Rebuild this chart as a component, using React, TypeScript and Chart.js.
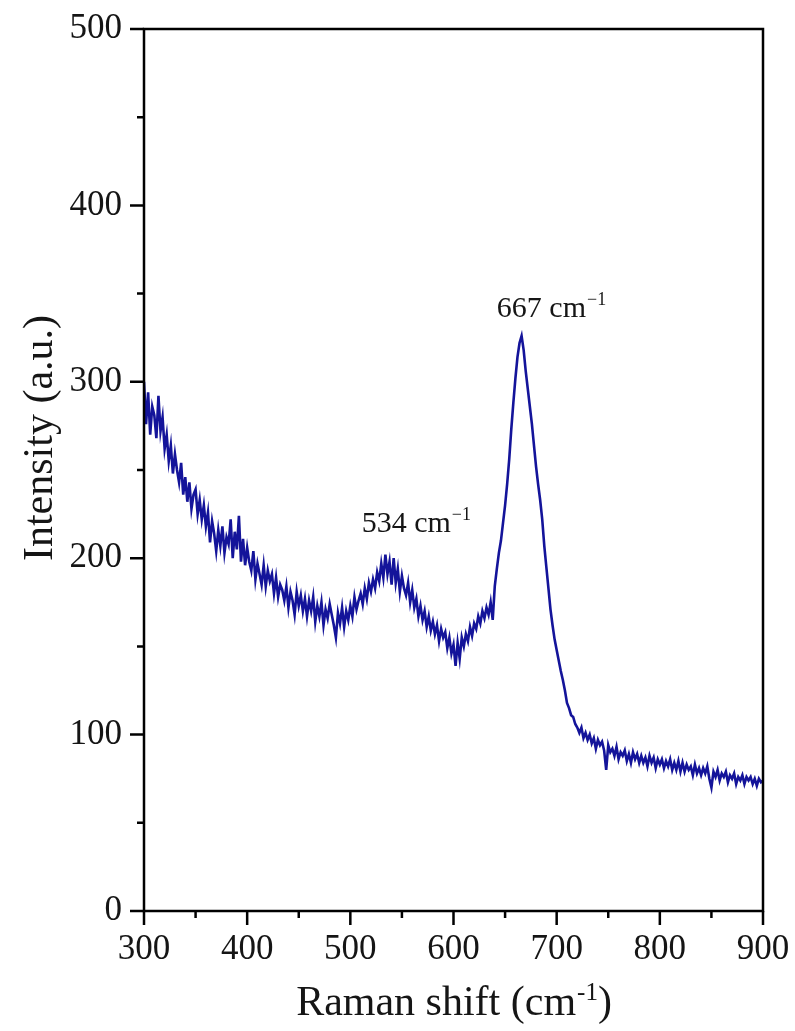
import React, { useEffect, useRef } from 'react';
import { Chart, registerables } from 'chart.js';

Chart.register(...registerables);

// Raman shift sampling (cm^-1)
const SHIFT_START = 300;
const SHIFT_STEP = 2;

// Intensity (a.u.), one value every 2 cm^-1
const intensity300to400 = [
  300, 276, 294, 270, 286, 281, 268, 292, 272, 280,
  262, 270, 255, 264, 248, 259, 250, 243, 254, 236,
  246, 232, 243, 228, 236, 239, 225, 233, 222, 230,
  218, 226, 209, 221, 214, 204, 216, 207, 218, 203,
  212, 208, 222, 200, 215, 205, 224, 198, 211, 196,
  206,
];
const intensity402to500 = [
  198, 193, 204, 188, 197, 191, 185, 196, 184, 193,
  187, 191, 180, 189, 178, 185, 182, 176, 184, 172,
  181, 176, 168, 181, 173, 179, 170, 177, 167, 176,
  170, 178, 164, 173, 167, 175, 162, 171, 166, 174,
  168, 162, 155, 169, 163, 172, 161, 170, 165, 173,
];
const intensity502to600 = [
  167, 178, 171, 176, 180, 174, 183, 177, 186, 181,
  188, 183, 192, 187, 197, 189, 202, 191, 198, 185,
  200, 186, 194, 181, 190, 183, 179, 186, 175, 182,
  172, 177, 167, 173, 165, 170, 161, 167, 159, 164,
  157, 162, 153, 160, 155, 158, 149, 155, 146, 151,
];
const intensity602to700 = [
  139, 152, 143, 155, 150, 157, 153, 161, 156, 163,
  160, 167, 163, 170, 166, 172, 168, 175, 165, 184,
  194, 203, 210, 220, 230, 242, 256, 273, 288, 302,
  314, 322, 326, 318, 306, 296, 286, 276, 264, 252,
  242, 233, 222, 207, 195, 183, 171, 162, 154, 148,
];
const intensity702to800 = [
  142, 136, 131, 125, 118, 115, 111, 110, 106, 104,
  101, 104, 98, 101, 97, 100, 95, 98, 92, 97,
  94, 96, 91, 80, 94, 90, 92, 88, 93, 86,
  90, 88, 91, 85, 89, 84, 90, 86, 89, 84,
  88, 84, 87, 82, 88, 84, 87, 81, 86, 83,
];
const intensity802to900 = [
  86, 81, 85, 82, 86, 80, 84, 80, 85, 79,
  84, 79, 83, 80, 82, 77, 83, 78, 81, 77,
  81, 78, 82, 75, 70, 79, 76, 80, 74, 78,
  76, 79, 73, 77, 75, 78, 72, 76, 74, 77,
  72, 76, 74, 76, 72, 75, 71, 75, 73, 74,
];

const X_MIN = 300;
const X_MAX = 900;
const Y_MIN = 0;
const Y_MAX = 500;

// Peak annotations: label text and anchor (left edge / baseline) in data units
const peakLabels = ['534', '667'];
const peakLabelX = [511, 642];
const peakLabelY = [215, 337];

const X_TITLE = 'Raman shift (cm';
const Y_TITLE = 'Intensity (a.u.)';

const LINE_COLOR = '#14149a';
const TEXT_COLOR = '#151515';
const FONT = '"Liberation Serif", "Times New Roman", serif';

const framePlugin = {
  id: 'frameAndText',
  afterDraw(chart: any) {
    const { ctx, chartArea: a, scales } = chart;
    const x = scales.x;
    const y = scales.y;
    ctx.save();
    ctx.strokeStyle = '#000';
    ctx.lineWidth = 2.5;
    ctx.lineCap = 'butt';
    ctx.strokeRect(a.left, a.top, a.right - a.left, a.bottom - a.top);

    ctx.beginPath();
    x.ticks.forEach((t: any) => {
      const px = x.getPixelForValue(t.value);
      const len = t.value % 100 === 0 ? 14 : 7;
      ctx.moveTo(px, a.bottom);
      ctx.lineTo(px, a.bottom + len);
    });
    y.ticks.forEach((t: any) => {
      const py = y.getPixelForValue(t.value);
      const len = t.value % 100 === 0 ? 14 : 7;
      ctx.moveTo(a.left, py);
      ctx.lineTo(a.left - len, py);
    });
    ctx.stroke();

    ctx.fillStyle = TEXT_COLOR;
    ctx.textBaseline = 'alphabetic';
    ctx.textAlign = 'left';

    // X title with superscript
    const tSize = 42;
    const sSize = 25;
    ctx.font = `${tSize}px ${FONT}`;
    const w1 = ctx.measureText(X_TITLE).width;
    ctx.font = `${sSize}px ${FONT}`;
    const w2 = ctx.measureText('-1').width;
    ctx.font = `${tSize}px ${FONT}`;
    const w3 = ctx.measureText(')').width;
    const total = w1 + w2 + w3;
    const cx = (a.left + a.right) / 2;
    const sx = cx - total / 2;
    const by = a.bottom + 104;
    ctx.fillText(X_TITLE, sx, by);
    ctx.font = `${sSize}px ${FONT}`;
    ctx.fillText('-1', sx + w1 + 1, by - 15);
    ctx.font = `${tSize}px ${FONT}`;
    ctx.fillText(')', sx + w1 + w2 + 1, by);

    // Y title rotated
    ctx.save();
    ctx.translate(a.left - 92, (a.top + a.bottom) / 2 - 32);
    ctx.rotate(-Math.PI / 2);
    ctx.font = `${tSize}px ${FONT}`;
    ctx.textAlign = 'center';
    ctx.fillText(Y_TITLE, 0, 0);
    ctx.restore();

    // Peak annotations
    const aSize = 30;
    const asSize = 18;
    peakLabels.forEach((lab, i) => {
      const px = x.getPixelForValue(peakLabelX[i]);
      const py = y.getPixelForValue(peakLabelY[i]);
      ctx.textAlign = 'left';
      ctx.font = `${aSize}px ${FONT}`;
      const txt = `${lab} cm`;
      const tw = ctx.measureText(txt).width;
      ctx.fillText(txt, px, py);
      ctx.font = `${asSize}px ${FONT}`;
      ctx.fillText('\u22121', px + tw + 1, py - 12);
    });
    ctx.restore();
  },
};

export default function App() {
  const ref = useRef<HTMLCanvasElement | null>(null);

  useEffect(() => {
    document.body.style.margin = '0';
    const intensity = [
      ...intensity300to400,
      ...intensity402to500,
      ...intensity502to600,
      ...intensity602to700,
      ...intensity702to800,
      ...intensity802to900,
    ];
    const points = intensity.map((v, i) => ({ x: SHIFT_START + i * SHIFT_STEP, y: v }));
    const tickFont = { family: FONT, size: 35 };

    const chart = new Chart(ref.current as HTMLCanvasElement, {
      type: 'line',
      data: {
        datasets: [
          {
            data: points,
            borderColor: LINE_COLOR,
            borderWidth: 2.6,
            pointRadius: 0,
            tension: 0,
            fill: false,
          },
        ],
      },
      options: {
        animation: false,
        responsive: false,
        maintainAspectRatio: false,
        layout: { padding: { top: 22, right: 32, left: 0, bottom: 0 } },
        plugins: { legend: { display: false }, tooltip: { enabled: false } },
        scales: {
          x: {
            type: 'linear',
            min: X_MIN,
            max: X_MAX,
            ticks: {
              stepSize: 50,
              autoSkip: false,
              maxRotation: 0,
              color: TEXT_COLOR,
              font: tickFont,
              padding: 4,
              callback: (v: any) => (Number(v) % 100 === 0 ? String(v) : ''),
            },
            grid: {
              drawOnChartArea: false,
              drawTicks: true,
              tickLength: 14,
              tickColor: 'rgba(0,0,0,0)',
            },
            border: { display: false },
            afterFit: (s: any) => {
              s.height = 120;
            },
          },
          y: {
            type: 'linear',
            min: Y_MIN,
            max: Y_MAX,
            ticks: {
              stepSize: 50,
              autoSkip: false,
              color: TEXT_COLOR,
              font: tickFont,
              padding: 8,
              callback: (v: any) => (Number(v) % 100 === 0 ? String(v) : ''),
            },
            grid: {
              drawOnChartArea: false,
              drawTicks: true,
              tickLength: 14,
              tickColor: 'rgba(0,0,0,0)',
            },
            border: { display: false },
            afterFit: (s: any) => {
              s.width = 144;
            },
          },
        },
      },
      plugins: [framePlugin],
    });
    return () => chart.destroy();
  }, []);

  return (
    <div style={{ width: 795, height: 1031, background: '#fff' }}>
      <canvas ref={ref} width={795} height={1031} style={{ display: 'block' }} />
    </div>
  );
}
